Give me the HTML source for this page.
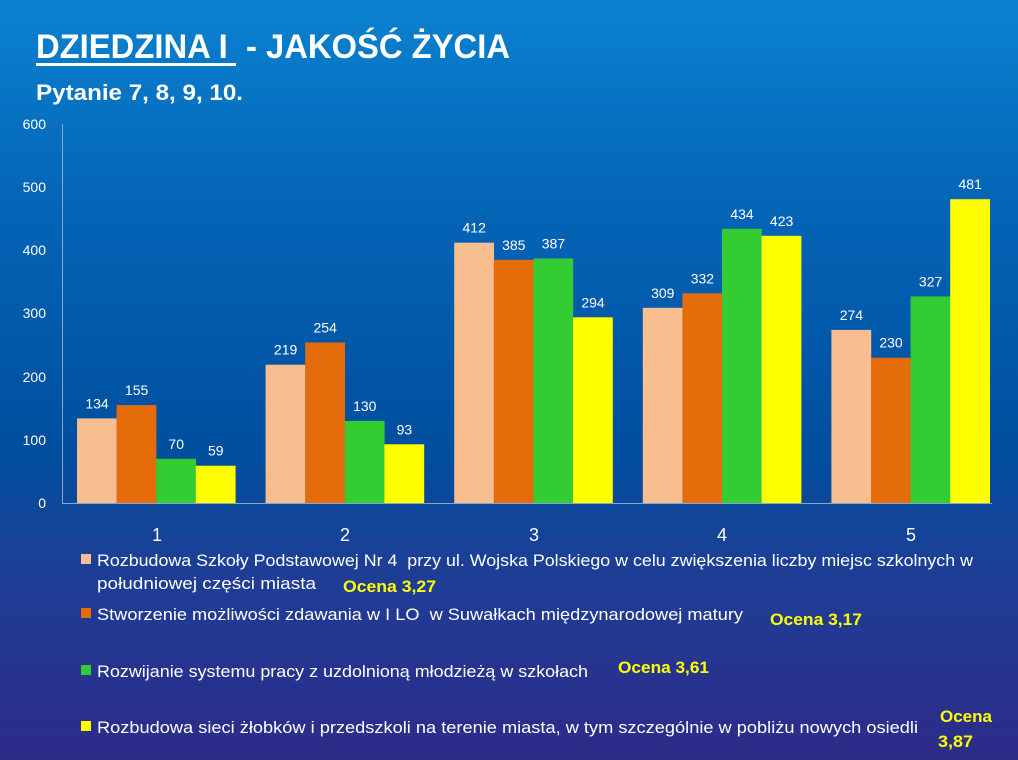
<!DOCTYPE html>
<html><head><meta charset="utf-8"><style>
html,body{margin:0;padding:0}
body{width:1018px;height:760px;overflow:hidden;background:linear-gradient(to bottom,#0a82d0 0%,#0566b8 25%,#004e9e 60%,#1e3e96 75%,#2d2b88 100%)}
svg{display:block}
text{font-family:"Liberation Sans",sans-serif;white-space:pre}
</style></head><body>
<svg width="1018" height="760" viewBox="0 0 1018 760">
<text x="36" y="58" font-size="34" font-weight="bold" fill="#fff" textLength="474" lengthAdjust="spacingAndGlyphs">DZIEDZINA I&#160;&#160;- JAKOŚĆ ŻYCIA</text>
<rect x="36" y="63" width="200" height="3" fill="#fff"/>
<text x="36" y="100" font-size="22" font-weight="bold" fill="#fff" textLength="207" lengthAdjust="spacingAndGlyphs">Pytanie 7, 8, 9, 10.</text>
<g fill="#fff" font-size="14" text-anchor="end">
<text x="46" y="129">600</text><text x="46" y="192">500</text><text x="46" y="255">400</text><text x="46" y="318">300</text><text x="46" y="382">200</text><text x="46" y="445">100</text><text x="46" y="508">0</text>
</g>
<line x1="62.5" y1="124" x2="62.5" y2="503" stroke="#8aa6cc" stroke-width="1"/>
<line x1="62" y1="503.5" x2="992" y2="503.5" stroke="#8aa6cc" stroke-width="1"/>
<g id="bars"></g>
<g fill="#fff" font-size="18" text-anchor="middle">
<text x="157" y="541">1</text><text x="345" y="541">2</text><text x="534" y="541">3</text><text x="722" y="541">4</text><text x="911" y="541">5</text>
</g>
<g font-size="17" fill="#fff">
<rect x="81" y="554" width="10" height="10" fill="#f8be90"/>
<text x="97" y="566" textLength="876" lengthAdjust="spacingAndGlyphs">Rozbudowa Szkoły Podstawowej Nr 4&#160;&#160;przy ul. Wojska Polskiego w celu zwiększenia liczby miejsc szkolnych w</text>
<text x="97" y="589" textLength="219" lengthAdjust="spacingAndGlyphs">południowej części miasta</text>
<rect x="81" y="608" width="10" height="10" fill="#e46c0a"/>
<text x="97" y="620" textLength="646" lengthAdjust="spacingAndGlyphs">Stworzenie możliwości zdawania w I LO&#160;&#160;w Suwałkach międzynarodowej matury</text>
<rect x="81" y="665" width="10" height="10" fill="#33cc33"/>
<text x="97" y="677" textLength="491" lengthAdjust="spacingAndGlyphs">Rozwijanie systemu pracy z uzdolnioną młodzieżą w szkołach</text>
<rect x="81" y="721" width="10" height="10" fill="#ffff00"/>
<text x="97" y="733" textLength="821" lengthAdjust="spacingAndGlyphs">Rozbudowa sieci żłobków i przedszkoli na terenie miasta, w tym szczególnie w pobliżu nowych osiedli</text>
</g>
<g font-size="17" font-weight="bold" fill="#ffff00">
<text x="343" y="592" textLength="93" lengthAdjust="spacingAndGlyphs">Ocena 3,27</text>
<text x="770" y="625" textLength="92" lengthAdjust="spacingAndGlyphs">Ocena 3,17</text>
<text x="618" y="673" textLength="91" lengthAdjust="spacingAndGlyphs">Ocena 3,61</text>
<text x="940" y="722" textLength="52" lengthAdjust="spacingAndGlyphs">Ocena</text>
<text x="938" y="747" textLength="35" lengthAdjust="spacingAndGlyphs">3,87</text>
</g>
</svg>
<script>
var d=[[134,155,70,59],[219,254,130,93],[412,385,387,294],[309,332,434,423],[274,230,327,481]];
var c=["#f8be90","#e46c0a","#33cc33","#ffff00"];
var g=document.getElementById("bars"),s="";
for(var i=0;i<5;i++)for(var j=0;j<4;j++){var v=d[i][j],x=77+188.6*i+39.6*j,h=v*0.6317,y=503-h;
s+='<rect x="'+x.toFixed(1)+'" y="'+y.toFixed(1)+'" width="39.8" height="'+h.toFixed(1)+'" fill="'+c[j]+'"/>';
s+='<text x="'+(x+20).toFixed(1)+'" y="'+(y-10).toFixed(1)+'" fill="#fff" font-size="14" text-anchor="middle">'+v+'</text>';}
g.innerHTML=s;
</script>
</body></html>
